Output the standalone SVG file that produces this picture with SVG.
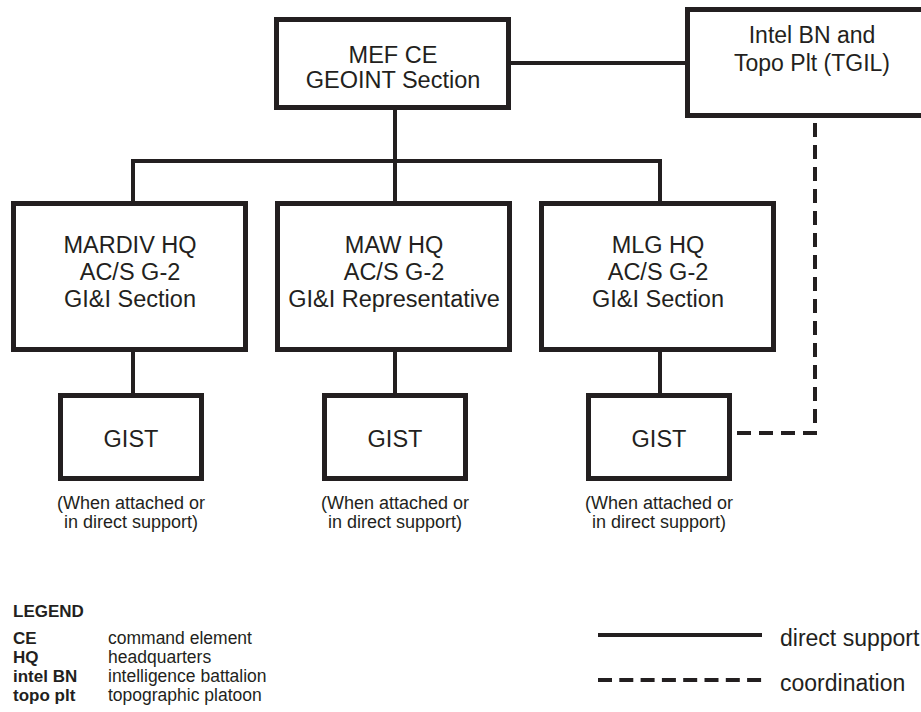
<svg xmlns="http://www.w3.org/2000/svg" width="921" height="712" viewBox="0 0 921 712">
<style>
.box{fill:#fff;stroke:#231f20;stroke-width:5}
.ln{fill:none;stroke:#231f20;stroke-width:4}
.dash{fill:none;stroke:#231f20;stroke-width:4;stroke-dasharray:14 7.3}
.t{font-family:"Liberation Sans",Arial,sans-serif;font-size:23.5px;fill:#231f20;text-anchor:middle}
.c{font-family:"Liberation Sans",Arial,sans-serif;font-size:18px;fill:#231f20;text-anchor:middle}
.lb{font-family:"Liberation Sans",Arial,sans-serif;font-size:17px;font-weight:bold;fill:#231f20}
.lr{font-family:"Liberation Sans",Arial,sans-serif;font-size:17.5px;fill:#231f20}
.lg{font-family:"Liberation Sans",Arial,sans-serif;font-size:23px;fill:#231f20}
</style>
<rect width="921" height="712" fill="#fff"/>
<g id="connectors">
<line class="ln" x1="511" y1="63" x2="685" y2="63"/>
<line class="ln" x1="395" y1="110" x2="395" y2="201"/>
<polyline class="ln" points="133,201 133,161 660,161 660,201"/>
<line class="ln" x1="133" y1="352" x2="133" y2="393"/>
<line class="ln" x1="395" y1="352" x2="395" y2="393"/>
<line class="ln" x1="660" y1="352" x2="660" y2="393"/>
<polyline class="dash" points="815,123 815,433 733,433" style="stroke-dasharray:14 8"/>
</g>
<g id="mef">
<rect class="box" x="276.5" y="19.5" width="232" height="88"/>
<text class="t" x="393" y="63">MEF CE</text>
<text class="t" x="393" y="88">GEOINT Section</text>
</g>
<g id="intel">
<rect class="box" x="687.5" y="9.5" width="260" height="106"/>
<text class="t" x="812" y="43" style="font-size:23px">Intel BN and</text>
<text class="t" x="812" y="71" style="font-size:23px">Topo Plt (TGIL)</text>
</g>
<g id="mardiv">
<rect class="box" x="13.5" y="203.5" width="232" height="146"/>
<text class="t" x="130" y="253">MARDIV HQ</text>
<text class="t" x="130" y="280">AC/S G-2</text>
<text class="t" x="130" y="307">GI&amp;I Section</text>
</g>
<g id="maw">
<rect class="box" x="277.5" y="203.5" width="232" height="146"/>
<text class="t" x="394" y="253">MAW HQ</text>
<text class="t" x="394" y="280">AC/S G-2</text>
<text class="t" x="394" y="307">GI&amp;I Representative</text>
</g>
<g id="mlg">
<rect class="box" x="541.5" y="203.5" width="232" height="146"/>
<text class="t" x="658" y="253">MLG HQ</text>
<text class="t" x="658" y="280">AC/S G-2</text>
<text class="t" x="658" y="307">GI&amp;I Section</text>
</g>
<g id="gist1">
<rect class="box" x="60.5" y="395.5" width="141" height="83"/>
<text class="t" x="131" y="447">GIST</text>
<text class="c" x="131" y="509">(When attached or</text>
<text class="c" x="131" y="528">in direct support)</text>
</g>
<g id="gist2">
<rect class="box" x="324.5" y="395.5" width="141" height="83"/>
<text class="t" x="395" y="447">GIST</text>
<text class="c" x="395" y="509">(When attached or</text>
<text class="c" x="395" y="528">in direct support)</text>
</g>
<g id="gist3">
<rect class="box" x="588.5" y="395.5" width="141" height="83"/>
<text class="t" x="659" y="447">GIST</text>
<text class="c" x="659" y="509">(When attached or</text>
<text class="c" x="659" y="528">in direct support)</text>
</g>
<g id="legend">
<text class="lb" x="13" y="617">LEGEND</text>
<text class="lb" x="13" y="644">CE</text>
<text class="lr" x="108" y="644">command element</text>
<text class="lb" x="13" y="663">HQ</text>
<text class="lr" x="108" y="663">headquarters</text>
<text class="lb" x="13" y="682">intel BN</text>
<text class="lr" x="108" y="682">intelligence battalion</text>
<text class="lb" x="13" y="701">topo plt</text>
<text class="lr" x="108" y="701">topographic platoon</text>
<line class="ln" x1="598" y1="635" x2="762" y2="635"/>
<text class="lg" x="780" y="646">direct support</text>
<line class="dash" x1="598" y1="680" x2="762" y2="680"/>
<text class="lg" x="780" y="691">coordination</text>
</g>
</svg>
